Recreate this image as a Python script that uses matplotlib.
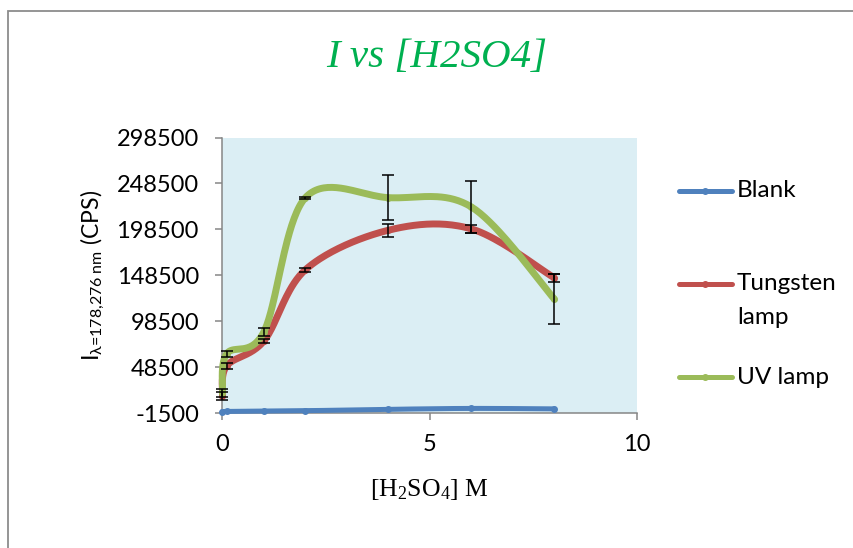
import numpy as np
import matplotlib
matplotlib.use("Agg")
import matplotlib.pyplot as plt
from matplotlib.lines import Line2D
from matplotlib.patches import Rectangle

plt.rcParams["mathtext.default"] = "regular"
plt.rcParams["mathtext.fontset"] = "custom"
plt.rcParams["mathtext.rm"] = "Lato"

# [H2SO4] concentrations (M) and measured intensities (CPS)
conc = [0, 0.1, 1, 2, 4, 6, 8]
blank = [0, 200, 500, 1000, 2500, 3500, 3000]
tungsten = [17000, 49800, 77000, 154500, 197500, 199000, 145800]
tungsten_err = [4000, 3000, 2000, 2000, 7000, 4000, 4400]
uv_lamp = [20300, 62900, 87000, 233000, 233000, 223000, 122900]
uv_err = [4000, 3000, 4500, 1200, 24500, 28400, 27000]

series_names = ["Blank", "Tungsten\nlamp", "UV lamp"]
colors = ["#4F81BD", "#C0504D", "#9BBB59"]

y_ticks = [-1500, 48500, 98500, 148500, 198500, 248500, 298500]
x_ticks = [0, 5, 10]

W, H = 854, 548


def fx(px):
    return px / W


def fy(py):
    return 1 - py / H


def smooth(x, y, n=40):
    # Catmull-Rom style Bezier smoothing, like spreadsheet "smoothed line"
    p = np.column_stack([x, y]).astype(float)
    ext = np.vstack([p[0], p, p[-1]])
    t = np.linspace(0, 1, n)[:, None]
    out = []
    for i in range(len(p) - 1):
        p0, p3 = ext[i + 1], ext[i + 2]
        c1 = p0 + (ext[i + 2] - ext[i]) / 6
        c2 = p3 - (ext[i + 3] - ext[i + 1]) / 6
        seg = (1 - t) ** 3 * p0 + 3 * (1 - t) ** 2 * t * c1 + 3 * (1 - t) * t ** 2 * c2 + t ** 3 * p3
        out.append(seg if i == 0 else seg[1:])
    s = np.vstack(out)
    return s[:, 0], s[:, 1]


fig = plt.figure(figsize=(W / 100, H / 100), dpi=100)
ax = fig.add_axes([fx(222.5), fy(413), fx(637) - fx(222.5), fy(137.5) - fy(413)])
ax.set_facecolor("#DBEEF4")

widths = [3.6, 5, 5]
for vals, c, lw in zip([blank, tungsten, uv_lamp], colors, widths):
    sx, sy = smooth(conc, vals)
    ax.plot(sx, sy, color=c, lw=lw, solid_capstyle="round", zorder=3, clip_on=False)
    ax.plot(conc, vals, "o", color=c, ms=4, zorder=3, clip_on=False)

for vals, err in [(tungsten, tungsten_err), (uv_lamp, uv_err)]:
    ax.errorbar(conc, vals, yerr=err, fmt="none", ecolor="black",
                elinewidth=1.1, capsize=4.5, capthick=1.1, zorder=4, clip_on=False)

ax.set_xlim(0, 10)
ax.set_ylim(-1500, 298500)
ax.set_xticks(x_ticks)
ax.set_yticks(y_ticks)
ax.set_yticklabels([str(v) for v in y_ticks])

for side in ["top", "right"]:
    ax.spines[side].set_visible(False)
for side in ["left", "bottom"]:
    ax.spines[side].set_color("#868686")
    ax.spines[side].set_linewidth(1.1)

ax.tick_params(axis="both", direction="out", length=5, width=1.1, color="#868686",
               labelsize=17, labelcolor="black")
ax.tick_params(axis="y", pad=12)
ax.tick_params(axis="x", pad=10)
for lab in ax.get_xticklabels() + ax.get_yticklabels():
    lab.set_fontfamily("Lato")

ax.set_ylabel(r"I$_{λ\text{=178,276 nm}}$ (CPS)", fontsize=16.5, fontfamily="Lato", labelpad=7)
ax.set_xlabel(r"[H$_2$SO$_4$] M", fontsize=18.5, fontfamily="Liberation Serif", labelpad=16)

fig.text(fx(437), fy(58), "I vs [H2SO4]", ha="center", va="center", fontsize=29.5,
         style="italic", fontfamily="Liberation Serif", color="#00B050")

# legend drawn by hand so the handle sits on the first text line
legend_y = [191, 284, 377]
line_gap = 33
for name, c, ly in zip(series_names, colors, legend_y):
    fig.add_artist(Line2D([fx(679), fx(732)], [fy(ly), fy(ly)], color=c, lw=3.6,
                          solid_capstyle="round", transform=fig.transFigure))
    fig.add_artist(Line2D([fx(705.5)], [fy(ly)], marker="o", ms=4, color=c,
                          transform=fig.transFigure))
    for k, part in enumerate(name.split("\n")):
        fig.text(fx(737), fy(ly + k * line_gap), part, ha="left", va="center",
                 fontsize=17.5, fontfamily="Lato")

# outer chart frame
fig.add_artist(Rectangle((fx(8), fy(600)), 2, fy(10.5) - fy(600), fill=False,
                         edgecolor="#8C8C8C", lw=1.3, transform=fig.transFigure))

fig.savefig("out.png", dpi=100)
